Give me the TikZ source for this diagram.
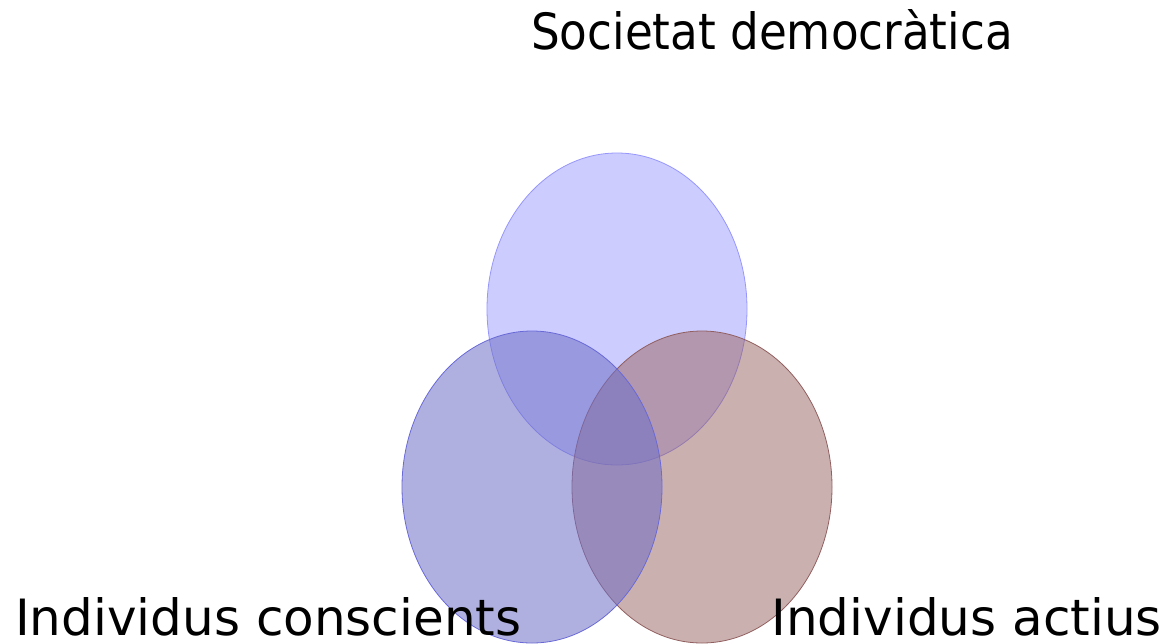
\documentclass[tikz,border=0pt]{standalone}
\usepackage{fontspec}
\setmainfont{DejaVu Sans}
\usetikzlibrary{positioning}

\definecolor{topfill}{RGB}{0,0,255}
\definecolor{topline}{RGB}{150,150,252}
\definecolor{leftfill}{RGB}{111,111,199}
\definecolor{leftline}{RGB}{105,105,215}
\definecolor{rightfill}{RGB}{151,97,97}
\definecolor{rightline}{RGB}{145,95,95}

\tikzset{
  set/.style={line width=0.8pt},
  caption/.style={font=\fontsize{50}{56}\selectfont, inner sep=0pt}
}

\begin{document}
\begin{tikzpicture}[x=1pt,y=-1pt]

  \newcommand\RX{130pt}
  \newcommand\RY{156pt}

  \useasboundingbox (0,0) rectangle (1167,643);

  % the three sets
  \draw[set, draw=topline, fill=topfill, fill opacity=0.2]
    (617,309) ellipse [x radius=\RX, y radius=\RY];
  \draw[set, draw=rightline, fill=rightfill, fill opacity=0.5]
    (702,487) ellipse [x radius=\RX, y radius=\RY];
  \draw[set, draw=leftline, fill=leftfill, fill opacity=0.55]
    (532,487) ellipse [x radius=\RX, y radius=\RY];

  % captions
  \node[caption, anchor=base] (societat) at (772,49)
    {\scalebox{0.905}[1]{Societat democràtica}};
  \node[caption, anchor=base west] (conscients) at (15,635) {Individus conscients};
  \node[caption, anchor=base east] (actius) at (1162,635) {Individus actius};

\end{tikzpicture}
\end{document}
